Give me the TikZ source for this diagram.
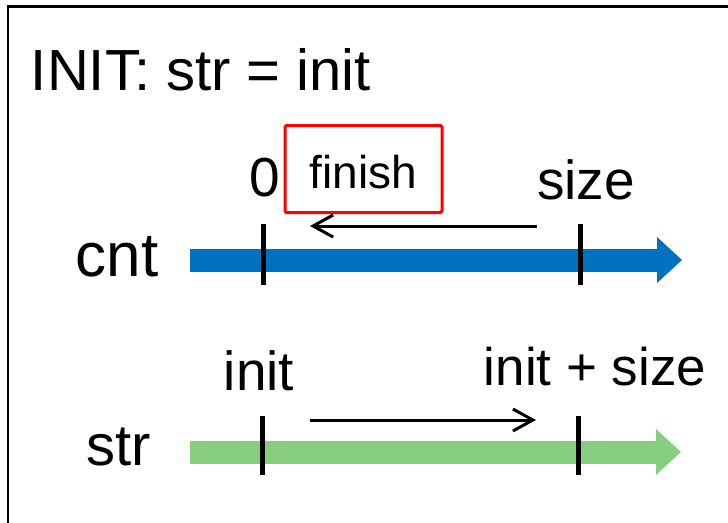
\documentclass[tikz,border=0pt]{standalone}
\usepackage{fontspec}
\setmainfont{Liberation Sans}
\usetikzlibrary{arrows.meta}
\definecolor{CntBlue}{RGB}{0,112,192}
\definecolor{StrGreen}{RGB}{133,207,126}
\definecolor{MarkRed}{RGB}{255,0,0}

\begin{document}
\begin{tikzpicture}[
    x=1pt,y=-1pt,
    bigtext/.style={inner sep=0pt,anchor=base,font=\fontsize{58}{60}\selectfont},
    marktext/.style={inner sep=0pt,anchor=base,font=\fontsize{55}{60}\selectfont},
    timeline/.style={line width=23pt,-{Triangle[length=25pt,width=46pt,line width=0pt]}},
    axtick/.style={line width=5pt,draw=black},
    shiftarrow/.style={line width=3pt,-{Straight Barb[length=20pt,width=22pt]}},
    finishbox/.style={draw=MarkRed,line width=3pt,rounded corners=1.5pt,inner sep=0pt,anchor=base,minimum width=157pt,text height=62.5pt,text depth=24.5pt,font=\fontsize{46}{50}\selectfont}
  ]
    \useasboundingbox (0,0) rectangle (728,522);
    \begin{scope}
      \clip (0,0) rectangle (728,522);
      \draw[line width=2.5pt] (8,540) |- (740,6.5);
    \end{scope}
    \node[bigtext] (title) at (201,90) {INIT: str = init};

    \coordinate (cntstart) at (190,260);
    \coordinate (cntend) at (682,260);
    \draw[timeline,draw=CntBlue,fill=CntBlue] (cntstart) -- (cntend);
    \foreach \x in {263,580} \draw[axtick] (\x,224) -- (\x,285);
    \node[bigtext,font=\fontsize{62}{64}\selectfont] (cntlabel) at (117,276) {cnt};
    \node[marktext] (zero) at (265,196) {0};
    \node[marktext] (size) at (586,199) {size};
    \node[finishbox] (finish) at (363.5,188) {finish};
    \coordinate (cntfrom) at (537,226);
    \coordinate (cntto) at (310,226);
    \draw[shiftarrow] (cntfrom) -- (cntto);

    \coordinate (strstart) at (190,452);
    \coordinate (strend) at (681,452);
    \draw[timeline,draw=StrGreen,fill=StrGreen] (strstart) -- (strend);
    \foreach \x in {262,578} \draw[axtick] (\x,416) -- (\x,475);
    \node[bigtext] (strlabel) at (119,465) {str};
    \node[marktext] (init) at (259,390) {init};
    \node[marktext,font=\fontsize{53}{60}\selectfont] (initsize) at (595,385) {init + size};
    \coordinate (strfrom) at (310,420);
    \coordinate (strto) at (536,420);
    \draw[shiftarrow] (strfrom) -- (strto);
  \end{tikzpicture}
\end{document}
